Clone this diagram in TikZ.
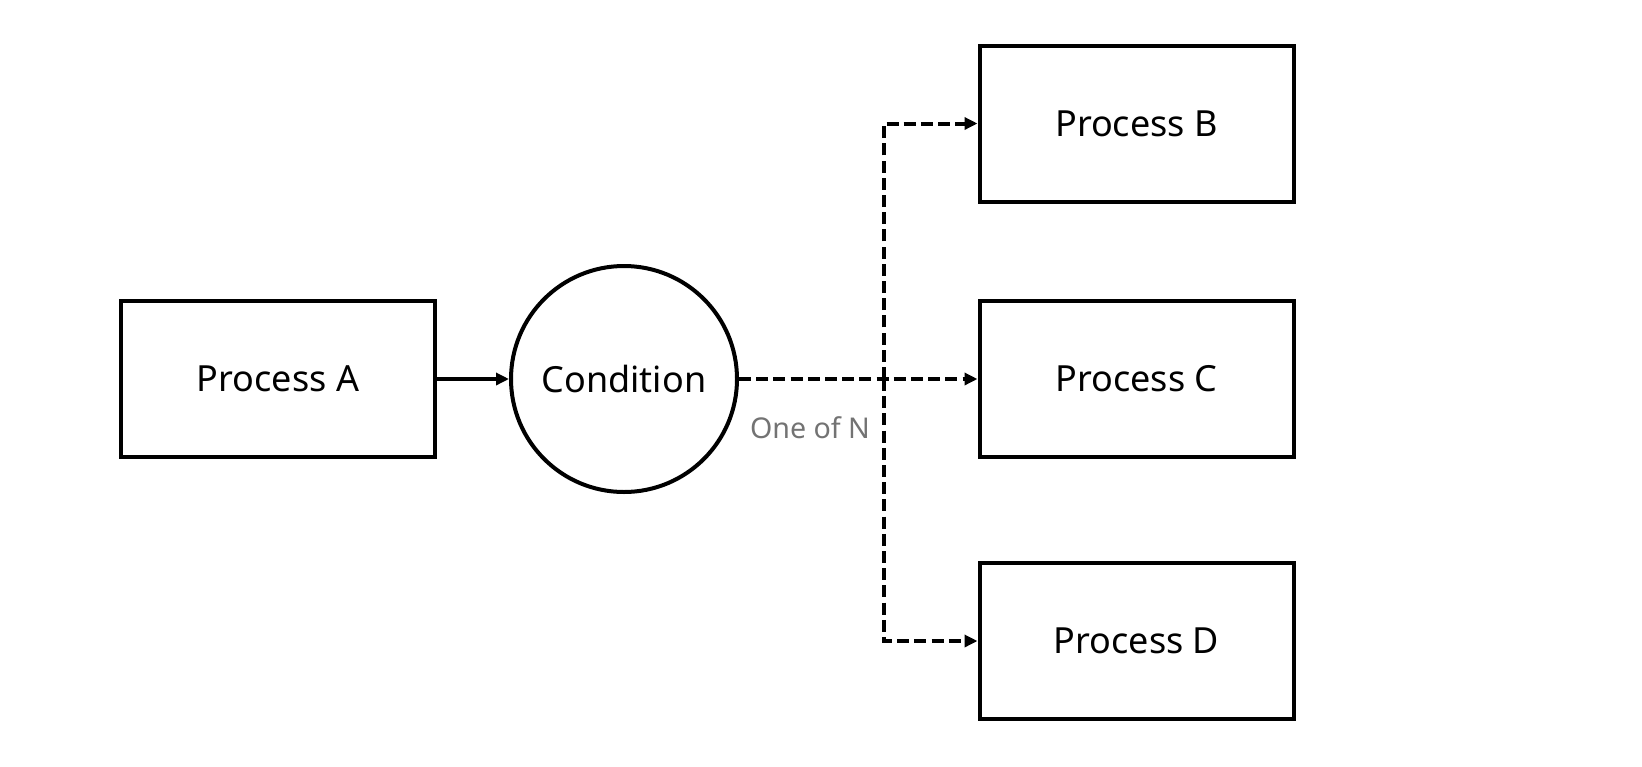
\documentclass[tikz,border=0pt]{standalone}
\usepackage{fontspec}
\setmainfont{Noto Sans}
\usetikzlibrary{arrows.meta}
\tikzset{
	procbox/.style={draw, line width=2pt, minimum width=157pt, minimum height=78pt, inner sep=0pt, font=\fontsize{18}{21}\selectfont},
	condcircle/.style={draw, circle, line width=2pt, minimum size=113pt, inner sep=0pt, font=\fontsize{18}{21}\selectfont},
	solidarrow/.style={line width=2pt, -{Triangle[length=6.5pt,width=6pt]}},
	dasharrow/.style={line width=2pt, dash pattern=on 6pt off 2.6pt, -{Triangle[length=6.5pt,width=6pt]}}
}

\begin{document}
\begin{tikzpicture}[x=0.5pt, y=-0.5pt]
			%%%%% START %%%%%
			\useasboundingbox (0, 0) rectangle (1642, 766);
			
			\node[procbox] (procA) at (278, 379) {Process A};
			\node[condcircle] (cond) at (624, 379) {Condition};
			
			\node[procbox] (procB) at (1136.5, 123.5) {Process B};
			\node[procbox] (procC) at (1136.5, 379) {Process C};
			\node[procbox] (procD) at (1136.5, 641) {Process D};
			
			\coordinate (split) at (884, 379);
			
			\draw[solidarrow] (procA.east) -- (cond.west);
			\draw[dasharrow] (cond.east) -- (procC.west);
			\draw[dasharrow] (split) |- (procB.west);
			\draw[dasharrow] (split) |- (procD.west);
			
			\node[text=black!55, font=\fontsize{14.3}{16}\selectfont] (oneofn) at (810, 428) {One of N};
			%%%%% END %%%%%
\end{tikzpicture}
\end{document}
